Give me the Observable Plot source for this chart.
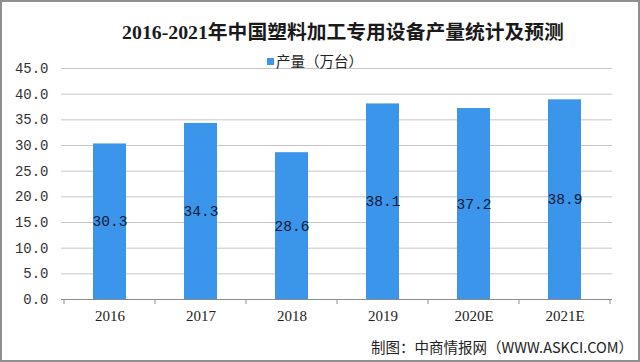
<!DOCTYPE html>
<html>
<head>
<meta charset="utf-8">
<script src="https://cdn.jsdelivr.net/npm/d3@7"></script>
<script src="https://cdn.jsdelivr.net/npm/@observablehq/plot@0.6"></script>
<style>
  html, body { margin: 0; padding: 0; background: #fff; }
  #wrap { position: relative; width: 640px; height: 362px; overflow: hidden; background: #fff; }
  #frame { position: absolute; left: 0; top: 0; width: 640px; height: 362px; box-sizing: border-box; border: 2px solid #8f8f8f; pointer-events: none; }
  #chart { position: absolute; left: 0; top: 0; }
  .title { position: absolute; left: 0; width: 686px; top: 19px; text-align: center; font-family: "Liberation Serif", "Noto Sans CJK SC", serif; font-weight: bold; font-size: 19.8px; line-height: 26px; color: #1a1a1a; white-space: nowrap; }
  .legend { position: absolute; left: 267px; top: 51px; font-family: "Noto Sans CJK SC", sans-serif; font-size: 14.5px; line-height: 20px; color: #222; white-space: nowrap; }
  .legend .sw { display: inline-block; width: 7px; height: 7px; background: #3b95ea; margin-right: 2px; vertical-align: 2px; }
  .caption { position: absolute; right: 7px; top: 336px; font-family: "Noto Sans CJK SC", sans-serif; font-size: 14.5px; line-height: 22px; color: #222; white-space: nowrap; }
</style>
</head>
<body>
<div id="wrap">
  <div id="chart"></div>
  <div class="title">2016-2021年中国塑料加工专用设备产量统计及预测</div>
  <div class="legend"><span class="sw"></span>产量（万台）</div>
  <div class="caption">制图：中商情报网（WWW.ASKCI.COM）</div>
  <div id="frame"></div>
</div>
<script>
const years = ["2016", "2017", "2018", "2019", "2020E", "2021E"];
const output = [30.3, 34.3, 28.6, 38.1, 37.2, 38.9];
const yTicks = [0, 5, 10, 15, 20, 25, 30, 35, 40, 45];

const data = years.map((y, i) => ({year: y, value: output[i]}));
const fmt = d3.format(".1f");

// boundary ticks drawn from the band scale
function bandBoundaryTicks(index, scales, values, dims) {
  const x = scales.x;
  const g = d3.create("svg:g");
  const bw = typeof x.bandwidth === "function" ? x.bandwidth() : 0;
  const step = typeof x.step === "function" ? x.step() : bw;
  const centers = years.map(c => x(c) + bw / 2);
  const bounds = centers.map(c => c - step / 2).concat([centers[centers.length - 1] + step / 2]);
  const y0 = dims.height - dims.marginBottom;
  g.selectAll("line").data(bounds).join("line")
    .attr("x1", d => d).attr("x2", d => d)
    .attr("y1", y0).attr("y2", y0 + 5)
    .attr("stroke", "#8c8c8c").attr("stroke-width", 1);
  return g.node();
}

const chart = Plot.plot({
  width: 640,
  height: 362,
  marginLeft: 61,
  marginRight: 28,
  marginTop: 68,
  marginBottom: 63,
  style: {background: "transparent", overflow: "visible"},
  x: {domain: years, type: "band", paddingInner: 0.64, paddingOuter: 0.32},
  y: {domain: [0, 45]},
  marks: [
    Plot.ruleY(yTicks.filter(d => d > 0), {stroke: "#c6c6c6", strokeWidth: 1}),
    Plot.barY(data, {x: "year", y: "value", fill: "#3b95ea"}),
    Plot.ruleY([0], {stroke: "#8c8c8c", strokeWidth: 1}),
    bandBoundaryTicks,
    Plot.text(data, {
      x: "year", y: d => d.value / 2, text: d => fmt(d.value),
      fill: "#0b1a36", fontSize: 14.5, fontFamily: "Liberation Mono, DejaVu Sans Mono, monospace"
    }),
    Plot.axisY({
      ticks: yTicks, tickFormat: fmt, tickSize: 0, tickPadding: 13, label: null,
      fontSize: 14, fontFamily: "Liberation Mono, DejaVu Sans Mono, monospace", fill: "#333"
    }),
    Plot.axisX({
      tickSize: 0, tickPadding: 11, label: null,
      fontSize: 15, fontFamily: "Liberation Serif, serif", fill: "#222"
    })
  ]
});
document.getElementById("chart").appendChild(chart);
</script>
</body>
</html>
